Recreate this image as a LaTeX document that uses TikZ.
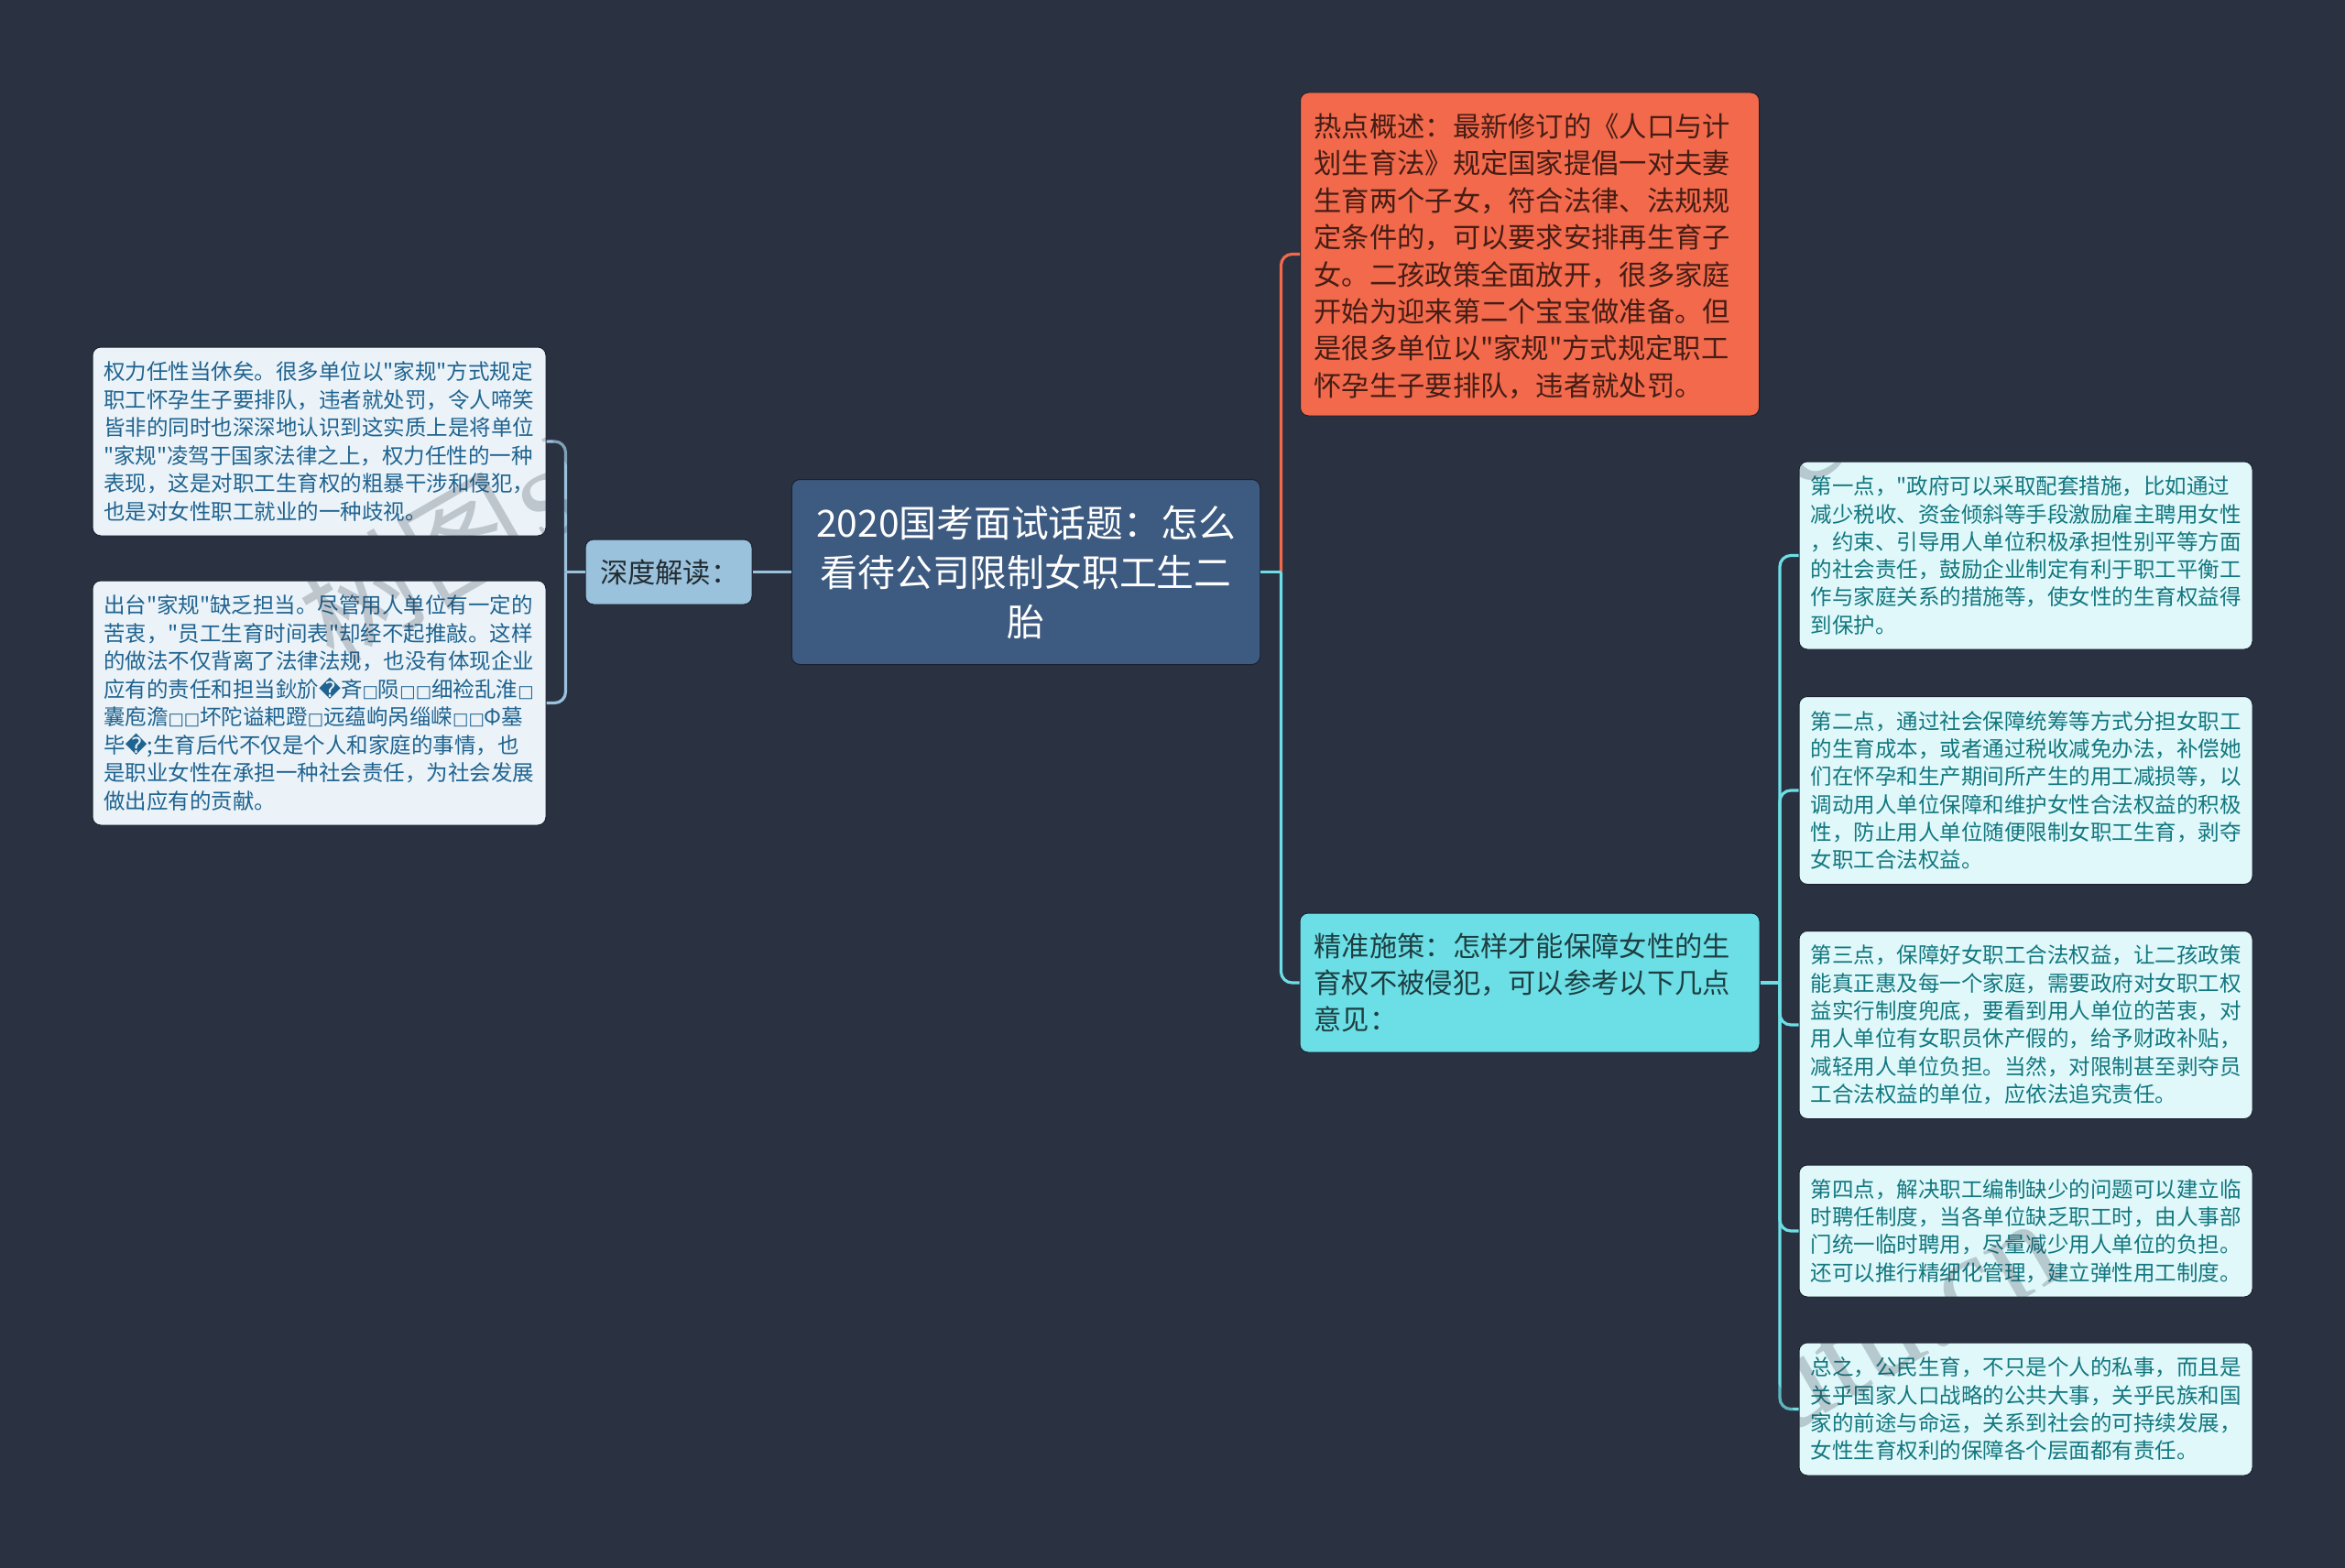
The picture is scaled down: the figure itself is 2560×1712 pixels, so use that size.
\documentclass[tikz,border=0pt]{standalone}
\usepackage{fontspec}
\newfontfamily\cjkf{Noto Sans CJK SC}
\newfontfamily\symf{DejaVu Sans}
\newfontfamily\wmf{Liberation Serif}
\newcommand\tofu{{\symf\fontsize{9.2}{15}\selectfont □}}
\newcommand\repl{{\symf\symbol{"FFFD}}}
\newcommand\fc{\symbol{"FF0C}}
\newcommand\fk{\symbol{"FF1A}}
\newcommand\wmfull{{\cjkf\fontsize{64}{64}\selectfont 树图}\ {\wmf\fontsize{72}{72}\selectfont shutu.cn}}
\newcommand\wmlatin{{\wmf\fontsize{72}{72}\selectfont shutu.cn}}
\definecolor{bgc}{HTML}{2A3140}
\definecolor{rootc}{HTML}{3D5A80}
\definecolor{orangec}{HTML}{F2694B}
\definecolor{cyanc}{HTML}{6CDFE6}
\definecolor{bluec}{HTML}{9AC2DC}
\definecolor{paleL}{HTML}{EBF3F8}
\definecolor{paleR}{HTML}{E0F8FA}
\definecolor{textL}{HTML}{1F6390}
\definecolor{textR}{HTML}{12777F}
\definecolor{edgec}{HTML}{1B2130}
\definecolor{wmc}{HTML}{2E3646}
\tikzset{
  x=0.5pt,y=-0.5pt,
  card/.style={shape=rectangle,rounded corners=4.5pt,inner sep=0pt,align=left,anchor=center,draw=edgec,line width=0.5pt},
  rootcard/.style={card,fill=rootc,text=white,align=center,minimum width=255.75pt,minimum height=101pt,text width=245pt,font=\cjkf\fontsize{20.4}{27}\selectfont},
  orangecard/.style={card,fill=orangec,text=black!72!orangec,minimum width=250.5pt,minimum height=176.5pt,text width=235.5pt,font=\cjkf\fontsize{15.15}{20.2}\selectfont},
  cyancard/.style={card,fill=cyanc,text=black!72!cyanc,minimum width=251pt,minimum height=76pt,text width=235.5pt,font=\cjkf\fontsize{15.15}{20}\selectfont},
  bluecard/.style={card,fill=bluec,text=black!78!bluec,minimum width=91pt,minimum height=35.5pt,text width=75pt,font=\cjkf\fontsize{15.15}{20}\selectfont},
  leafL/.style={card,fill=paleL,text=textL,minimum width=247.5pt,text width=235.5pt,font=\cjkf\fontsize{11.75}{15.25}\selectfont},
  leafR/.style={card,fill=paleR,text=textR,minimum width=247.5pt,text width=235pt,font=\cjkf\fontsize{11.75}{15.15}\selectfont},
  linkB/.style={draw=bluec,line width=1.6pt,rounded corners=6pt},
  linkO/.style={draw=orangec,line width=1.6pt,rounded corners=6pt},
  linkC/.style={draw=cyanc,line width=1.6pt,rounded corners=6pt},
  wmark/.style={text=wmc,text opacity=0.24,rotate=30,inner sep=0pt,anchor=west},
}
\begin{document}
\begin{tikzpicture}
\fill[bgc] (0,0) rectangle (2560,1712);
\useasboundingbox (0,0) rectangle (2560,1712);

\node[rootcard] (root) at (1120,624.5) {2020国考面试话题\fk 怎么\\看待公司限制女职工生二\\胎};

\node[bluecard] (deep) at (730,624.5) {深度解读\fk};

\node[leafL,minimum height=103pt] (l1) at (348.5,482) {权力任性当休矣。很多单位以"家规"方式规定\\职工怀孕生子要排队\fc 违者就处罚\fc 令人啼笑\\皆非的同时也深深地认识到这实质上是将单位\\"家规"凌驾于国家法律之上\fc 权力任性的一种\\表现\fc 这是对职工生育权的粗暴干涉和侵犯\fc\\也是对女性职工就业的一种歧视。};

\node[leafL,minimum height=133.5pt] (l2) at (348.5,767.5) {出台"家规"缺乏担当。尽管用人单位有一定的\\苦衷\fc "员工生育时间表"却经不起推敲。这样\\的做法不仅背离了法律法规\fc 也没有体现企业\\应有的责任和担当鈥斺\repl 斉\tofu 陨\tofu\tofu 细裣乱淮\tofu\\囊庖澹\tofu\tofu 坏陀谥耙蹬\tofu 远蕴岣呙缁嵘\tofu\tofu Φ墓\\毕\repl ;生育后代不仅是个人和家庭的事情\fc 也\\是职业女性在承担一种社会责任\fc 为社会发展\\做出应有的贡献。};

\node[orangecard] (hot) at (1670,277.5) {\rule{0pt}{15pt}热点概述\fk 最新修订的《人口与计\\划生育法》规定国家提倡一对夫妻\\生育两个子女\fc 符合法律、法规规\\定条件的\fc 可以要求安排再生育子\\女。二孩政策全面放开\fc 很多家庭\\开始为迎来第二个宝宝做准备。但\\是很多单位以"家规"方式规定职工\\怀孕生子要排队\fc 违者就处罚。};

\node[cyancard] (act) at (1670,1073) {精准施策\fk 怎样才能保障女性的生\\育权不被侵犯\fc 可以参考以下几点\\意见\fk};

\node[leafR,minimum height=102.5pt] (r1) at (2211.5,606.5) {第一点\fc "政府可以采取配套措施\fc 比如通过\\减少税收、资金倾斜等手段激励雇主聘用女性\\\fc 约束、引导用人单位积极承担性别平等方面\\的社会责任\fc 鼓励企业制定有利于职工平衡工\\作与家庭关系的措施等\fc 使女性的生育权益得\\到保护。};

\node[leafR,minimum height=102.5pt] (r2) at (2211.5,863) {第二点\fc 通过社会保障统筹等方式分担女职工\\的生育成本\fc 或者通过税收减免办法\fc 补偿她\\们在怀孕和生产期间所产生的用工减损等\fc 以\\调动用人单位保障和维护女性合法权益的积极\\性\fc 防止用人单位随便限制女职工生育\fc 剥夺\\女职工合法权益。};

\node[leafR,minimum height=102.5pt] (r3) at (2211.5,1119) {第三点\fc 保障好女职工合法权益\fc 让二孩政策\\能真正惠及每一个家庭\fc 需要政府对女职工权\\益实行制度兜底\fc 要看到用人单位的苦衷\fc 对\\用人单位有女职员休产假的\fc 给予财政补贴\fc\\减轻用人单位负担。当然\fc 对限制甚至剥夺员\\工合法权益的单位\fc 应依法追究责任。};

\node[leafR,minimum height=72pt] (r4) at (2211.5,1344) {第四点\fc 解决职工编制缺少的问题可以建立临\\时聘任制度\fc 当各单位缺乏职工时\fc 由人事部\\门统一临时聘用\fc 尽量减少用人单位的负担。\\还可以推行精细化管理\fc 建立弹性用工制度。};

\node[leafR,minimum height=72.5pt] (r5) at (2211.5,1538.5) {总之\fc 公民生育\fc 不只是个人的私事\fc 而且是\\关乎国家人口战略的公共大事\fc 关乎民族和国\\家的前途与命运\fc 关系到社会的可持续发展\fc\\女性生育权利的保障各个层面都有责任。};

\coordinate (lbus) at (617.5,624.5);
\coordinate (rbus) at (1398.5,624.5);
\coordinate (cbus) at (1943,1073);

\draw[linkB] (root.west) -- (deep.east);
\draw[linkB] (deep.west) -- (lbus);
\draw[linkB] (lbus) |- (l1.east);
\draw[linkB] (lbus) |- (l2.east);
\draw[linkO] (rbus) |- (hot.west);
\draw[linkC] (root.east) -- (rbus);
\draw[linkC] (rbus) |- (act.west);
\draw[linkC] (act.east) -- (cbus);
\draw[linkC] (cbus) |- (r1.west);
\draw[linkC] (cbus) |- (r2.west);
\draw[linkC] (cbus) |- (r3.west);
\draw[linkC] (cbus) |- (r4.west);
\draw[linkC] (cbus) |- (r5.west);

\node[wmark] (wm1) at (340,685) {\wmfull};
\node[wmark] (wm2) at (1814,1590) {\wmlatin};
\node[wmark] (wm3) at (1636,668) {\wmlatin};
\end{tikzpicture}
\end{document}
